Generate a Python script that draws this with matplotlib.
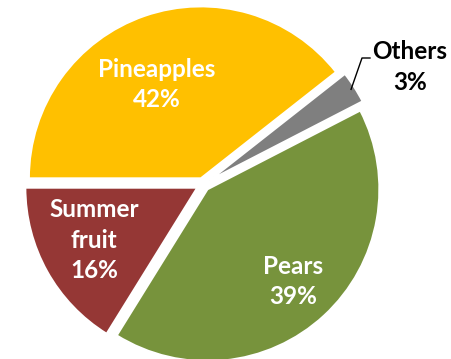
import matplotlib
matplotlib.use("Agg")
import matplotlib.pyplot as plt
import numpy as np

# slice order, clockwise starting from 9 o'clock
fruits = ['Pineapples', 'Others', 'Pears', 'Summer fruit']
# printed percentages
pct_labels = [42, 3, 39, 16]
# slice sizes as they are drawn in the source picture (they differ a bit from the printed numbers)
slice_sizes = [39, 3, 41, 16]
colors = ['#FFC000', '#7F7F7F', '#77933C', '#953735']
text_names = ['Pineapples', 'Others', 'Pears', 'Summer\nfruit']

plt.rcParams['font.family'] = ['Lato', 'DejaVu Sans']

fig = plt.figure(figsize=(4.51, 3.59), dpi=100)
ax = fig.add_axes([0, 0, 1, 1])

cx, cy, R = 203.0, 174.5, 172.0
# explode is in data units here (1 unit = 1 px)
wedges, _ = ax.pie(slice_sizes, colors=colors, startangle=180, counterclock=False,
                   explode=[6.5, 8, 6.5, 6.5], center=(cx, cy), radius=R,
                   wedgeprops=dict(edgecolor='white', linewidth=1.5))
ax.set_xlim(0, 451)
ax.set_ylim(0, 359)
ax.set_aspect('equal')
ax.axis('off')

# label placement: (radial fraction, angle shift) per slice
label_pos = {'Pineapples': (0.64, 6), 'Pears': (0.77, 0), 'Summer fruit': (0.71, -2)}
for w, name, txt, pct in zip(wedges, fruits, text_names, pct_labels):
    if name == 'Others':
        continue
    frac, shift = label_pos[name]
    ang = np.deg2rad((w.theta1 + w.theta2) / 2 + shift)
    ax.text(cx + frac * R * np.cos(ang), cy + frac * R * np.sin(ang), f'{txt}\n{pct}%',
            ha='center', va='center', color='white', fontsize=17.5, fontweight='bold',
            linespacing=1.38)

# outside label with leader line for the small slice
w = wedges[1]
ang = np.deg2rad((w.theta1 + w.theta2) / 2)
px, py = w.center[0] + (R - 4) * np.cos(ang), w.center[1] + (R - 4) * np.sin(ang)
ax.plot([px, 362, 370], [py, 301, 301], color='black', lw=1)
ax.text(410, 292, f'Others\n{pct_labels[1]}%', ha='center', va='center', color='black',
        fontsize=17.5, fontweight='bold', linespacing=1.38)

fig.savefig('out.png', dpi=100)
